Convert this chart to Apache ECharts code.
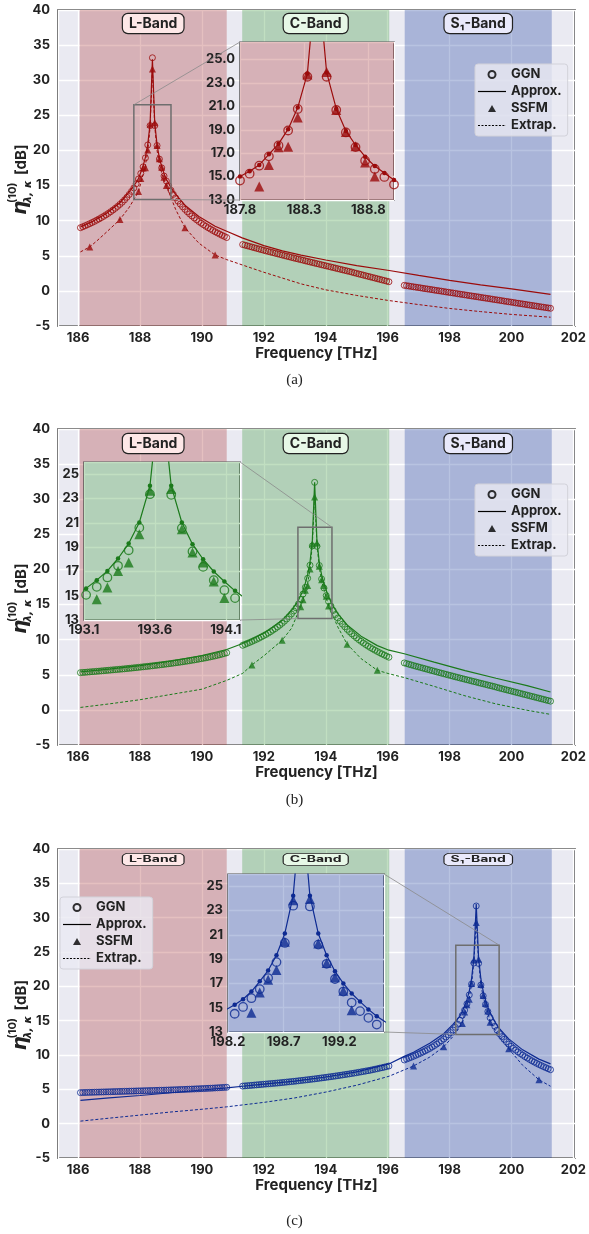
<!DOCTYPE html>
<html><head><meta charset="utf-8">
<script src="https://cdn.jsdelivr.net/npm/echarts@6/dist/echarts.min.js"></script>
<style>html,body{margin:0;padding:0;background:#fff}#c{width:589px;height:1234px}</style>
</head><body><div id="c"></div>
<script>
// ---------------- DATA ----------------
// channel plan (75 GHz grid, 64 channels per band): first channel of L, C, S bands [THz]
const channelStep = 0.075;
const bandChannelStart = [186.075, 191.315, 196.535];
const bandEdges = [[186.05, 190.8], [191.3, 196.05], [196.55, 201.3]];
const bandNames = ['L-Band', 'C-Band', 'S\u2081-Band'];
const panelCaptions = ['(a)', '(b)', '(c)'];
const peakBand = [0, 1, 2];

// GGN, panel (a) (CUT in L-band)
const ggnA_L = [9.00,9.13,9.27,9.42,9.57,9.73,9.89,10.07,10.24,10.43,10.62,10.83,11.04,11.27,11.51,11.76,
  12.03,12.32,12.63,12.96,13.33,13.73,14.17,14.66,15.25,15.93,16.73,17.66,18.94,20.78,23.53,33.2,
  23.53,20.69,18.77,17.52,16.36,15.65,14.97,14.32,13.75,13.24,12.78,12.36,11.97,11.61,11.27,10.96,
  10.67,10.39,10.13,9.88,9.64,9.42,9.20,9.00,8.80,8.61,8.42,8.25,8.08,7.91,7.76,7.60];
const ggnA_C = [6.60,6.51,6.42,6.33,6.24,6.15,6.06,5.97,5.88,5.79,5.70,5.62,5.53,5.45,5.36,5.28,
  5.19,5.11,5.02,4.94,4.86,4.77,4.69,4.61,4.53,4.45,4.37,4.28,4.20,4.12,4.04,3.96,
  3.88,3.80,3.72,3.64,3.56,3.48,3.40,3.32,3.24,3.16,3.08,3.00,2.92,2.84,2.76,2.68,
  2.58,2.50,2.41,2.33,2.24,2.16,2.07,1.99,1.90,1.82,1.73,1.65,1.56,1.48,1.39,1.30];
const ggnA_S = [0.79,0.74,0.69,0.63,0.58,0.53,0.48,0.43,0.37,0.32,0.27,0.22,0.17,0.11,0.06,0.01,
  -0.04,-0.09,-0.15,-0.20,-0.25,-0.30,-0.35,-0.41,-0.46,-0.51,-0.56,-0.61,-0.67,-0.72,-0.77,-0.82,
  -0.87,-0.93,-0.98,-1.03,-1.08,-1.13,-1.19,-1.24,-1.29,-1.34,-1.39,-1.45,-1.50,-1.55,-1.60,-1.65,
  -1.71,-1.76,-1.81,-1.86,-1.91,-1.97,-2.02,-2.07,-2.12,-2.17,-2.23,-2.28,-2.33,-2.38,-2.43,-2.48];
// GGN, panel (b) (CUT in C-band)
const ggnB_L = [5.30,5.33,5.35,5.38,5.41,5.44,5.46,5.49,5.52,5.55,5.58,5.61,5.64,5.67,5.70,5.73,
  5.76,5.79,5.82,5.85,5.89,5.92,5.95,5.99,6.02,6.06,6.09,6.13,6.17,6.20,6.24,6.28,
  6.32,6.36,6.40,6.44,6.48,6.53,6.57,6.61,6.66,6.71,6.75,6.80,6.85,6.90,6.95,7.00,
  7.06,7.11,7.17,7.23,7.29,7.35,7.41,7.48,7.55,7.62,7.69,7.77,7.85,7.94,8.03,8.13];
const ggnB_C = [9.20,9.33,9.47,9.60,9.75,9.90,10.05,10.21,10.38,10.56,10.74,10.93,11.13,11.35,11.57,11.81,
  12.06,12.34,12.63,12.95,13.29,13.66,14.08,14.54,15.07,15.73,16.50,17.46,18.74,20.60,23.35,32.4,
  23.30,20.56,18.64,17.37,16.28,15.45,14.80,14.16,13.59,13.09,12.63,12.21,11.83,11.47,11.14,10.83,
  10.54,10.26,10.00,9.76,9.52,9.30,9.08,8.88,8.68,8.50,8.32,8.14,7.97,7.81,7.65,7.50];
const ggnB_S = [6.69,6.60,6.50,6.41,6.31,6.22,6.13,6.04,5.95,5.86,5.77,5.68,5.59,5.50,5.41,5.32,
  5.23,5.15,5.06,4.97,4.89,4.80,4.71,4.63,4.54,4.46,4.37,4.29,4.21,4.12,4.04,3.96,
  3.87,3.79,3.71,3.63,3.54,3.46,3.38,3.30,3.20,3.11,3.03,2.94,2.86,2.77,2.69,2.60,
  2.52,2.43,2.35,2.26,2.18,2.09,2.01,1.92,1.84,1.75,1.67,1.58,1.50,1.41,1.33,1.24];
// GGN, panel (c) (CUT in S-band)
const ggnC_L = [4.52,4.53,4.54,4.55,4.56,4.57,4.58,4.59,4.60,4.61,4.62,4.63,4.64,4.65,4.66,4.67,
  4.68,4.69,4.70,4.71,4.72,4.73,4.74,4.75,4.76,4.77,4.78,4.79,4.80,4.81,4.82,4.83,
  4.84,4.85,4.86,4.87,4.88,4.89,4.90,4.92,4.93,4.94,4.95,4.97,4.98,4.99,5.01,5.02,
  5.04,5.05,5.07,5.08,5.10,5.11,5.13,5.15,5.16,5.18,5.20,5.22,5.24,5.26,5.28,5.30];
const ggnC_C = [5.47,5.50,5.53,5.56,5.59,5.62,5.65,5.68,5.71,5.74,5.77,5.80,5.83,5.86,5.89,5.92,
  5.95,5.99,6.02,6.06,6.09,6.13,6.16,6.20,6.24,6.28,6.32,6.36,6.40,6.44,6.48,6.52,
  6.57,6.61,6.66,6.70,6.75,6.80,6.84,6.89,6.94,6.99,7.04,7.09,7.15,7.20,7.25,7.31,
  7.36,7.42,7.48,7.54,7.60,7.66,7.72,7.78,7.86,7.93,8.00,8.08,8.15,8.23,8.31,8.40];
const ggnC_S = [9.28,9.41,9.54,9.67,9.81,9.96,10.11,10.26,10.43,10.60,10.78,10.96,11.16,11.37,11.59,11.82,
  12.07,12.33,12.62,12.92,13.26,13.63,14.03,14.50,15.06,15.78,16.53,17.44,18.75,20.33,23.39,31.7,
  23.33,20.19,18.61,17.36,16.33,15.42,14.72,14.17,13.61,13.10,12.67,12.28,11.92,11.58,11.27,10.98,
  10.71,10.45,10.21,9.98,9.76,9.55,9.35,9.15,8.97,8.79,8.62,8.46,8.30,8.15,8.00,7.86];

// SSFM: channel indices (inside the CUT band) and values
const ssfmChannels = [4,17,25,26,27,28,29,30,31,32,33,34,35,36,37,45,58];
const ssfmA = [6.26,10.16,14.15,16.0,17.5,17.55,20.05,23.72,31.6,23.94,20.7,18.8,17.6,16.2,15.0,9.0,5.11];
const ssfmB = [6.4,9.93,14.7,15.67,17.04,17.73,20.06,23.63,30.3,23.77,20.47,18.55,17.73,16.17,14.8,9.36,5.64];
const ssfmC = [8.4,11.2,14.58,16.25,17.3,18.11,20.42,23.83,29.3,23.94,20.28,18.67,17.5,16.39,14.78,10.9,6.4];

// Approximation (solid)
const approxFreqA = [186.075,186.45,186.9,187.35,187.65,187.725,187.8,187.875,187.95,188.025,188.1,188.175,188.25,188.325,188.4,
  188.475,188.55,188.625,188.7,188.775,188.85,188.925,189.0,189.075,189.15,189.45,189.9,190.425,190.8,191.3,192.0,192.6,193.2,
  194.0,195.0,196.05,197.0,198.0,199.0,200.0,201.26];
const approxValA = [9.1,9.85,10.98,12.55,14.1,14.55,15.0,15.45,16.0,16.9,17.8,19.05,20.9,23.8,33.0,
  23.9,20.8,18.9,17.7,16.7,15.9,15.3,14.7,14.2,13.75,12.2,10.6,9.2,8.5,7.55,6.45,5.7,5.1,
  4.4,3.6,2.9,2.2,1.5,0.85,0.3,-0.5];
const approxFreqB = [186.075,187.0,188.0,189.0,190.0,190.8,191.315,191.615,192.065,192.59,192.89,192.965,193.04,193.115,193.19,
  193.265,193.34,193.415,193.49,193.565,193.64,193.715,193.79,193.865,193.94,194.015,194.09,194.165,194.24,194.315,194.39,
  194.69,195.14,195.665,196.04,196.535,197.5,198.5,199.5,200.5,201.26];
const approxValB = [5.4,5.8,6.3,6.95,7.75,8.6,9.45,10.05,11.1,12.75,14.15,14.6,15.05,15.6,16.28,
  17.04,18.06,19.29,21.02,24.04,32.4,24.04,21.02,19.24,18.0,16.99,16.17,15.4,14.75,14.2,13.7,
  12.1,10.5,9.15,8.5,8.0,6.8,5.6,4.5,3.45,2.55];
const approxFreqC = [186.075,187.0,188.0,189.0,190.0,190.8,191.315,192.0,193.0,194.0,195.0,196.04,196.535,196.835,197.36,
  197.81,198.11,198.185,198.26,198.335,198.41,198.485,198.56,198.635,198.71,198.785,198.86,198.935,199.01,199.085,199.16,
  199.235,199.31,199.385,199.46,199.535,199.61,199.91,200.36,200.885,201.26];
const approxValC = [3.4,3.75,4.1,4.5,4.9,5.2,5.45,5.75,6.2,6.8,7.55,8.7,9.8,10.4,11.7,
  13.1,14.45,14.85,15.25,15.7,16.33,17.17,18.06,19.31,21.11,24.22,32.0,24.22,21.11,19.31,18.0,
  17.0,16.17,15.5,14.86,14.3,13.85,12.35,10.75,9.4,8.7];

// Extrapolation (dashed)
const extrapFreqA = [186.075,186.375,186.6,186.9,187.35,187.65,187.95,188.025,188.1,188.175,188.25,188.325,188.4,
  188.475,188.55,188.625,188.7,188.775,188.85,189.15,189.45,189.9,190.425,190.8,191.3,192.0,193.2,194.0,195.0,196.0,
  197.0,198.0,199.0,200.0,201.26];
const extrapValA = [5.55,6.26,7.1,8.3,10.16,11.9,14.1,15.4,16.6,17.9,19.9,23.3,31.6,
  23.4,20.0,18.0,16.8,15.8,15.0,11.6,9.0,6.8,5.11,4.45,3.7,2.65,1.0,0.15,-0.65,-1.35,
  -1.95,-2.5,-2.95,-3.35,-3.75];
const extrapFreqB = [186.075,187.0,188.0,189.0,190.0,190.8,191.315,191.615,192.0,192.59,192.89,193.19,193.265,193.34,193.415,
  193.49,193.565,193.64,193.715,193.79,193.865,193.94,194.015,194.09,194.39,194.69,195.14,195.665,196.04,196.535,
  197.5,198.5,199.5,200.5,201.26];
const extrapValB = [0.35,0.85,1.45,2.2,2.95,4.2,5.2,6.4,7.7,9.93,11.6,14.7,15.67,16.9,18.0,
  20.0,23.5,30.3,23.6,20.3,18.3,17.2,16.0,14.8,11.8,9.36,7.3,5.64,5.15,4.6,
  3.35,2.0,0.85,-0.05,-0.64];
const extrapFreqC = [186.075,187.0,188.0,189.0,190.0,190.8,192.0,193.0,194.0,195.0,196.04,196.835,197.36,197.81,198.11,
  198.41,198.485,198.56,198.635,198.71,198.785,198.86,198.935,199.01,199.085,199.16,199.235,199.31,199.61,199.91,
  200.36,200.885,201.26];
const extrapValC = [0.37,0.8,1.25,1.7,2.1,2.45,3.1,3.75,4.6,5.6,6.9,8.4,9.7,11.2,12.7,
  14.58,16.0,17.2,18.3,20.3,23.6,29.3,23.7,20.2,18.5,17.3,16.2,14.78,12.6,10.9,
  8.5,6.4,5.45];

// axes
const mainXRange = [185.35, 202.05];
const mainYRange = [-5, 40];
const insetXRange = [[187.8, 189.0], [193.1, 194.2], [198.2, 199.6]];
const insetYRange = [[13, 26.5], [13, 26], [13, 26]];
const insetYDecimals = [1, 0, 0];
const legendNames = ['GGN', 'Approx.', 'SSFM', 'Extrap.'];

// ---------------- LAYOUT / STYLE ----------------
const FONT = 'Inter, "Open Sans", "DejaVu Sans", sans-serif';
const colors = ['#9b0b0b', '#1b7a1b', '#0d2a92'];
const bandTint = ['rgba(170,45,45,0.3)', 'rgba(50,150,50,0.3)', 'rgba(20,55,155,0.3)'];
const bandLabelBg = ['#fde7e7', '#e7f8e7', '#e9e9fb'];
const mainGrid = [{top: 10, height: 316}, {top: 429, height: 316}, {top: 849, height: 309}];
const insetGrid = [{left: 240, top: 42, width: 154, height: 158}, {left: 84, top: 462, width: 156, height: 158}, {left: 228, top: 874, width: 156, height: 158}];
const legendPos = [{left: 475, top: 64}, {left: 475, top: 484}, {left: 60, top: 897}];
const legendIcons = ['circle', 'path://M0,0h28v1.2h-28z', 'path://M4,0L8,7L0,7Z',
  'path://M0,0h2v1h-2z M3.5,0h2v1h-2z M7,0h2v1h-2z M10.5,0h2v1h-2z M14,0h2v1h-2z M17.5,0h2v1h-2z M21,0h2v1h-2z M24.5,0h2v1h-2z M28,0h0.1v1h-0.1z'];
const bandLabelOffset = [13.5, 14.5, 10.5];
const bandLabelScaleY = [1, 1, 0.6];
const captionY = [380, 800, 1221];
// inset connector corners: [rect corner (x idx, y idx), inset corner (x idx, y idx)]
const insetLinks = [
  [[[0,1],[0,1]], [[1,0],[0,0]]],
  [[[1,1],[1,1]], [[0,0],[1,0]]],
  [[[1,1],[1,1]], [[0,0],[1,0]]]
];

// ---------------- BUILD ----------------
const ggnBands = [[ggnA_L, ggnA_C, ggnA_S], [ggnB_L, ggnB_C, ggnB_S], [ggnC_L, ggnC_C, ggnC_S]];
const ssfmVals = [ssfmA, ssfmB, ssfmC];
const approx = [[approxFreqA, approxValA], [approxFreqB, approxValB], [approxFreqC, approxValC]];
const extrap = [[extrapFreqA, extrapValA], [extrapFreqB, extrapValB], [extrapFreqC, extrapValC]];
const chFreq = (b, k) => +(bandChannelStart[b] + k * channelStep).toFixed(3);
const zip = (f, v) => f.map((x, i) => [x, v[i]]);

const chart = echarts.init(document.getElementById('c'));
const grids = [], xAxes = [], yAxes = [], series = [];
const axisLabelStyle = {color: '#222', fontWeight: 'bold', fontSize: 13, fontFamily: FONT};

for (let p = 0; p < 3; p++) {
  grids.push({left: 58, width: 518, top: mainGrid[p].top, height: mainGrid[p].height, show: true,
    backgroundColor: '#eaeaf2', borderColor: '#333', borderWidth: 1.5, z: 0});
  xAxes.push({type: 'value', gridIndex: p, min: mainXRange[0], max: mainXRange[1], minInterval: 2, maxInterval: 2,
    axisLine: {show: false}, axisTick: {show: false},
    splitLine: {lineStyle: {color: '#ffffff', width: 1.3}},
    axisLabel: Object.assign({showMinLabel: false, showMaxLabel: false, margin: 6}, axisLabelStyle),
    name: 'Frequency [THz]', nameLocation: 'middle', nameGap: 20,
    nameTextStyle: {color: '#222', fontWeight: 'bold', fontSize: 15, fontFamily: FONT}});
  yAxes.push({type: 'value', gridIndex: p, min: mainYRange[0], max: mainYRange[1], interval: 5,
    axisLine: {show: false}, axisTick: {show: false},
    splitLine: {lineStyle: {color: '#ffffff', width: 1.3}},
    axisLabel: Object.assign({margin: 8}, axisLabelStyle)});
}
for (let p = 0; p < 3; p++) {
  const g = insetGrid[p];
  grids.push({left: g.left, top: g.top, width: g.width, height: g.height, show: true,
    backgroundColor: '#eaeaf2', borderColor: '#111', borderWidth: 1.2, z: 9});
  xAxes.push({type: 'value', gridIndex: 3 + p, min: insetXRange[p][0], max: insetXRange[p][1], interval: 0.5, z: 10,
    axisLine: {show: false}, axisTick: {show: false},
    splitLine: {lineStyle: {color: '#ffffff', width: 1.3}},
    axisLabel: Object.assign({showMaxLabel: false, margin: 4, formatter: v => v.toFixed(1)}, axisLabelStyle)});
  yAxes.push({type: 'value', gridIndex: 3 + p, min: insetYRange[p][0], max: insetYRange[p][1], interval: 2, z: 10,
    axisLine: {show: false}, axisTick: {show: false},
    splitLine: {lineStyle: {color: '#ffffff', width: 1.3}},
    axisLabel: Object.assign({showMaxLabel: false, margin: 5, formatter: v => v.toFixed(insetYDecimals[p])}, axisLabelStyle)});
}

for (let p = 0; p < 3; p++) {
  const c = colors[p];
  const ggn = [];
  ggnBands[p].forEach((arr, b) => arr.forEach((v, k) => ggn.push([chFreq(b, k), v])));
  const pb = peakBand[p];
  const ssfm = ssfmChannels.map((k, i) => [chFreq(pb, k), ssfmVals[p][i]]);
  const ap = zip(approx[p][0], approx[p][1]);
  const ex = zip(extrap[p][0], extrap[p][1]);
  // main: band shading
  series.push({type: 'line', xAxisIndex: p, yAxisIndex: p, data: [], z: 1, silent: true,
    markArea: {silent: true, z: 1, data: bandEdges.map((e, b) => [{xAxis: e[0], itemStyle: {color: bandTint[b]}}, {xAxis: e[1]}])}});
  series.push({type: 'scatter', xAxisIndex: p, yAxisIndex: p, data: ggn, symbol: 'circle', symbolSize: 6, z: 3, silent: true,
    itemStyle: {color: 'transparent', borderColor: c, borderWidth: 1}});
  series.push({type: 'line', xAxisIndex: p, yAxisIndex: p, data: ap, showSymbol: false, z: 4, silent: true,
    lineStyle: {color: c, width: 1.2}});
  series.push({type: 'line', xAxisIndex: p, yAxisIndex: p, data: ex, showSymbol: false, z: 4, silent: true,
    lineStyle: {color: c, width: 1, type: [3, 2]}});
  series.push({type: 'scatter', xAxisIndex: p, yAxisIndex: p, data: ssfm, symbol: 'triangle', symbolSize: 7, z: 5, silent: true,
    itemStyle: {color: c}});
  // zoom rectangle
  series.push({type: 'line', xAxisIndex: p, yAxisIndex: p, data: [], z: 6, silent: true,
    markArea: {silent: true, z: 6, itemStyle: {color: 'rgba(0,0,0,0)', borderColor: '#6e6e6e', borderWidth: 1.5},
      data: [[{coord: [insetXRange[p][0], insetYRange[p][0]]}, {coord: [insetXRange[p][1], insetYRange[p][1]]}]]}});
  // inset
  const ia = 3 + p;
  const insetBands = [];
  bandEdges.forEach((e, b) => {
    const lo = Math.max(e[0], insetXRange[p][0]), hi = Math.min(e[1], insetXRange[p][1]);
    if (hi > lo) insetBands.push([{xAxis: lo, itemStyle: {color: bandTint[b]}}, {xAxis: hi}]);
  });
  series.push({type: 'line', xAxisIndex: ia, yAxisIndex: ia, data: [], z: 11, silent: true,
    markArea: {silent: true, z: 11, data: insetBands}});
  series.push({type: 'line', xAxisIndex: ia, yAxisIndex: ia, data: ap, z: 12, silent: true, clip: true,
    showSymbol: true, symbol: 'circle', symbolSize: 4.5, itemStyle: {color: c}, lineStyle: {color: c, width: 1.2}});
  series.push({type: 'scatter', xAxisIndex: ia, yAxisIndex: ia, data: ggn, symbol: 'circle', symbolSize: 8.5, z: 13, silent: true, clip: true,
    itemStyle: {color: 'transparent', borderColor: c, borderWidth: 1.3}});
  series.push({type: 'scatter', xAxisIndex: ia, yAxisIndex: ia, data: ssfm, symbol: 'triangle', symbolSize: 10, z: 14, silent: true, clip: true,
    itemStyle: {color: c}});
}
// legend proxies (black)
series.push({name: 'GGN', type: 'scatter', xAxisIndex: 0, yAxisIndex: 0, data: [], symbol: 'circle',
  itemStyle: {color: 'rgba(0,0,0,0)', borderColor: '#000', borderWidth: 1}});
series.push({name: 'Approx.', type: 'line', xAxisIndex: 0, yAxisIndex: 0, data: [], symbol: 'none',
  itemStyle: {color: '#000'}, lineStyle: {color: '#000', width: 1.2}});
series.push({name: 'SSFM', type: 'scatter', xAxisIndex: 0, yAxisIndex: 0, data: [], symbol: 'triangle', itemStyle: {color: '#000'}});
series.push({name: 'Extrap.', type: 'line', xAxisIndex: 0, yAxisIndex: 0, data: [], symbol: 'none',
  itemStyle: {color: '#000'}, lineStyle: {color: '#000', width: 1, type: [2, 1.5]}});

const legends = legendPos.map(lp => ({
  data: legendNames.map((n, i) => ({name: n, icon: legendIcons[i]})),
  orient: 'vertical', left: lp.left, top: lp.top, symbolKeepAspect: true,
  itemWidth: 28, itemHeight: 7, itemGap: 4, selectedMode: false, z: 50,
  textStyle: {color: '#222', fontWeight: 'bold', fontSize: 13, fontFamily: FONT},
  backgroundColor: 'rgba(234,234,242,0.8)', borderColor: '#d2d2da', borderWidth: 1, borderRadius: 3, padding: [4, 6, 4, 3]}));

chart.setOption({animation: false, grid: grids, xAxis: xAxes, yAxis: yAxes, series: series, legend: legends});

// ---------------- ANNOTATIONS ----------------
const graphics = [];
for (let p = 0; p < 3; p++) {
  const main = {xAxisIndex: p, yAxisIndex: p};
  const ins = {xAxisIndex: 3 + p, yAxisIndex: 3 + p};
  // band labels
  bandEdges.forEach((e, b) => {
    const px = chart.convertToPixel(main, [(e[0] + e[1]) / 2, 0]);
    graphics.push({type: 'text', x: px[0], y: mainGrid[p].top + bandLabelOffset[p], scaleY: bandLabelScaleY[p], z: 60,
      style: {text: bandNames[b], fill: '#222', fontWeight: 'bold', fontSize: 14, fontFamily: FONT,
        align: 'center', verticalAlign: 'middle', backgroundColor: bandLabelBg[b], borderColor: '#222',
        borderWidth: 1.2, borderRadius: 5, padding: [3, 6, 2, 6]}});
  });
  // connectors
  insetLinks[p].forEach(link => {
    const r = link[0], q = link[1];
    const a = chart.convertToPixel(main, [insetXRange[p][r[0]], insetYRange[p][r[1]]]);
    const b = chart.convertToPixel(ins, [insetXRange[p][q[0]], insetYRange[p][q[1]]]);
    graphics.push({type: 'line', z: 55, silent: true, shape: {x1: a[0], y1: a[1], x2: b[0], y2: b[1]},
      style: {stroke: '#8a8a8a', lineWidth: 0.8}});
  });
  // y-axis title
  const cy = mainGrid[p].top + mainGrid[p].height / 2 + 4;
  graphics.push({type: 'group', x: 21, y: cy, rotation: Math.PI / 2, children: [
    {type: 'text', x: -43, y: 0, style: {text: '\u03b7', fill: '#222', fontStyle: 'italic', fontWeight: 'bold', fontSize: 20, fontFamily: '"DejaVu Sans", sans-serif', align: 'left', verticalAlign: 'middle'}},
    {type: 'text', x: -31, y: -8, style: {text: '(10)', fill: '#222', fontWeight: 'bold', fontSize: 11, fontFamily: FONT, align: 'left', verticalAlign: 'middle'}},
    {type: 'text', x: -31, y: 7, style: {text: '\u03bb, \u03ba', fill: '#222', fontStyle: 'italic', fontWeight: 'bold', fontSize: 11, fontFamily: '"DejaVu Sans", sans-serif', align: 'left', verticalAlign: 'middle'}},
    {type: 'text', x: -3, y: 0, style: {text: '[dB]', fill: '#222', fontWeight: 'bold', fontSize: 15, fontFamily: FONT, align: 'left', verticalAlign: 'middle'}}
  ]});
  // caption
  graphics.push({type: 'text', x: 294.5, y: captionY[p], style: {text: panelCaptions[p], fill: '#222', fontSize: 15,
    fontFamily: '"Liberation Serif", serif', align: 'center', verticalAlign: 'middle'}});
}
chart.setOption({graphic: graphics});
</script></body></html>
